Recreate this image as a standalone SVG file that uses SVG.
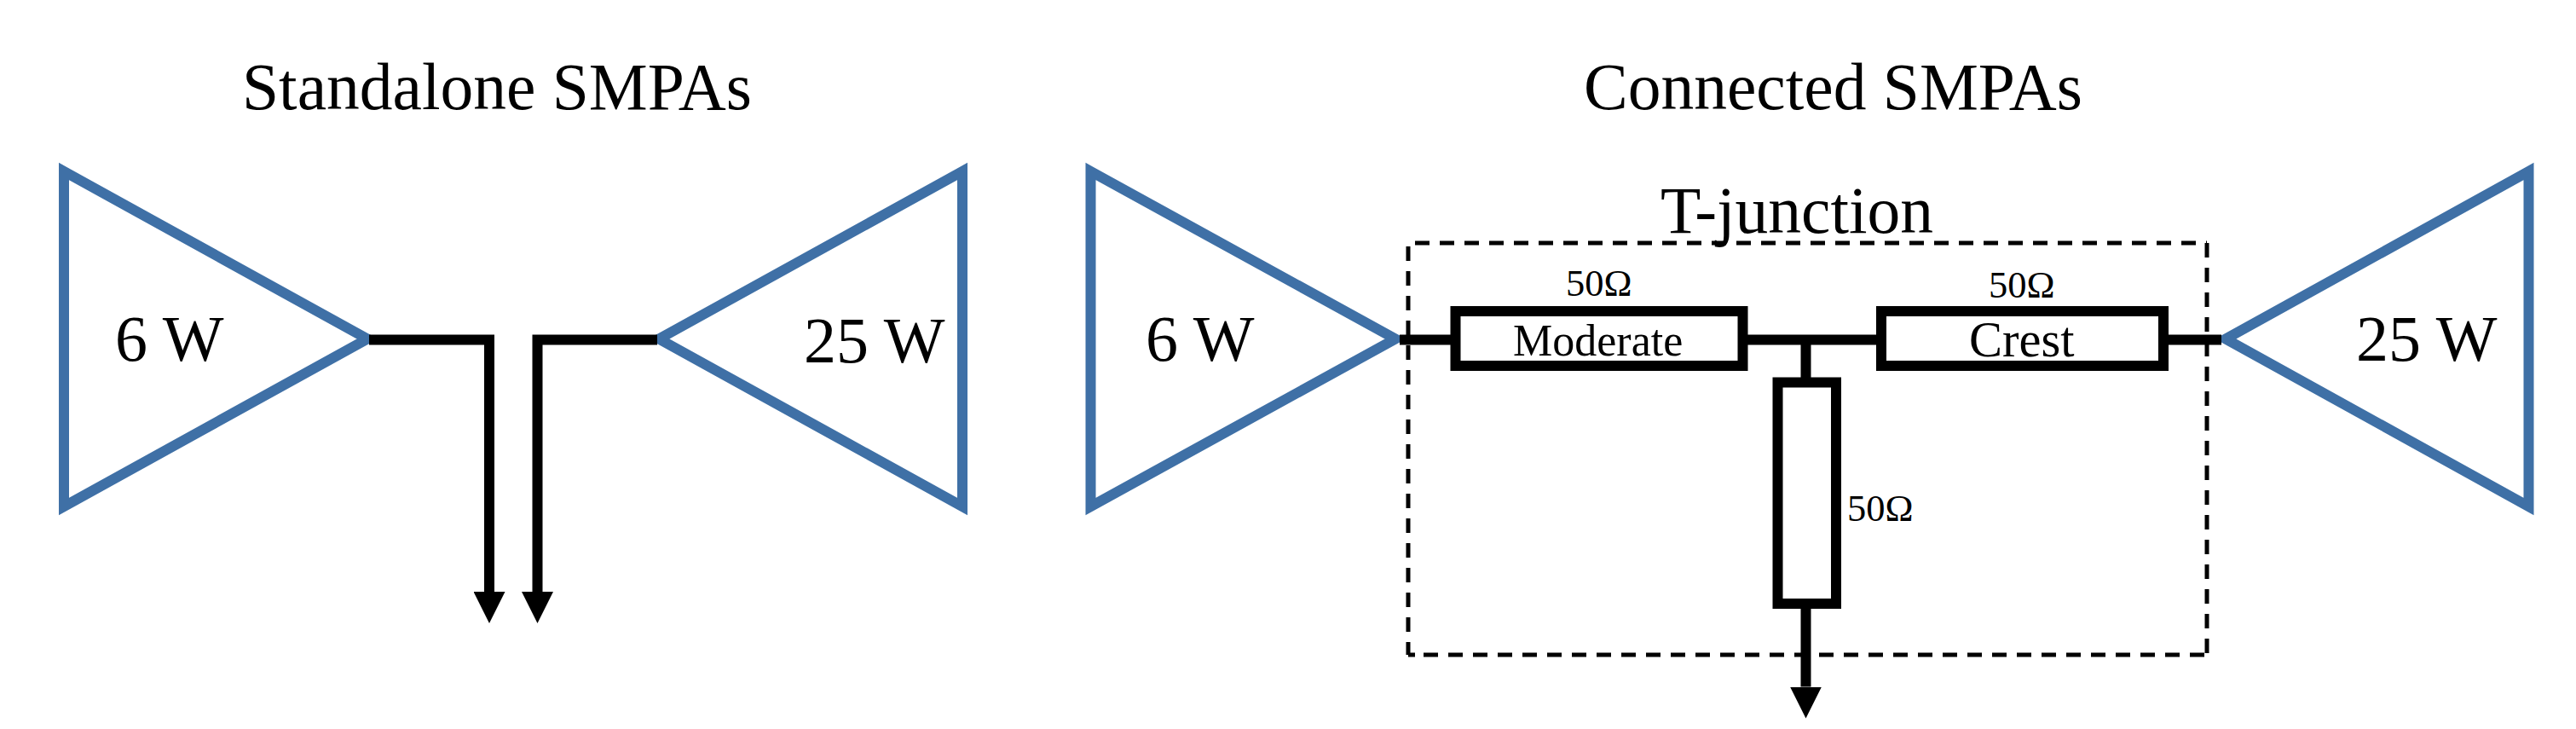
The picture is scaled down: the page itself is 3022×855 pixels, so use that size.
<svg xmlns="http://www.w3.org/2000/svg" width="3022" height="855" viewBox="0 0 3022 855">
<style>
text{font-family:"Liberation Serif","Times New Roman",serif;fill:#000}
.big{font-size:76px}
.title{font-size:77.500px}
.ohm{font-size:44.500px}
.amp{fill:#fff;stroke:#3f70a6;stroke-width:12;stroke-linejoin:miter;stroke-miterlimit:10}
.wire{fill:none;stroke:#000;stroke-width:12;stroke-linejoin:miter}
.box{fill:#fff;stroke:#000;stroke-width:12}
.dash{fill:none;stroke:#000;stroke-width:5;stroke-dasharray:17 12}
</style>
<defs>
<marker id="head" markerUnits="userSpaceOnUse" viewBox="0 0 37 37" refX="0" refY="18.5" markerWidth="37" markerHeight="37" orient="auto"><path d="M0 0L37 18.5L0 37z" fill="#000"/></marker>
</defs>
<rect width="3022" height="855" fill="#fff"/>
<text id="title-standalone" class="title" x="284" y="128">Standalone SMPAs</text>
<text id="title-connected" class="title" x="1858" y="128">Connected SMPAs</text>
<g id="amp-6w-a"><path class="amp" d="M75 201L431 397.500L75 594Z"/><text class="big" x="135" y="422.500">6 W</text></g>
<g id="amp-25w-a"><path class="amp" d="M1129 201L773 397.500L1129 594Z"/><text class="big" x="943" y="425">25 W</text></g>
<g id="amp-6w-b"><path class="amp" d="M1279.500 201L1637 397.500L1279.500 594Z"/><text class="big" x="1344" y="422.500">6 W</text></g>
<g id="amp-25w-b"><path class="amp" d="M2966.500 201L2611 397.500L2966.500 594Z"/><text class="big" x="2764" y="422.500">25 W</text></g>
<g id="connectors">
<path class="wire" d="M433 398.500H574V694" marker-end="url(#head)"/>
<path class="wire" d="M771 398.500H630.500V694" marker-end="url(#head)"/>
<path class="wire" d="M1642 398.500H2606"/>
<path class="wire" d="M2118.500 398.500V448"/>
<path class="wire" d="M2118.500 708V805.500" marker-end="url(#head)"/>
</g>
<g id="t-junction">
<path class="dash" d="M1660 285H2589M2589 285V768M1670 768H2589M1652 289V768M1652 768H1660"/>
<text class="title" x="1948" y="272.500">T-junction</text>
</g>
<g id="line-moderate"><rect class="box" x="1707.500" y="365" width="337" height="64"/><text style="font-size:52px" x="1775" y="417">Moderate</text><text class="ohm" x="1837" y="347">50Ω</text></g>
<g id="line-crest"><rect class="box" x="2207" y="365" width="331" height="64"/><text style="font-size:58.500px" x="2310" y="418">Crest</text><text class="ohm" x="2333" y="349">50Ω</text></g>
<g id="line-shunt"><rect class="box" x="2085.500" y="448.500" width="68.500" height="259.500"/><text class="ohm" x="2167" y="611">50Ω</text></g>
</svg>
